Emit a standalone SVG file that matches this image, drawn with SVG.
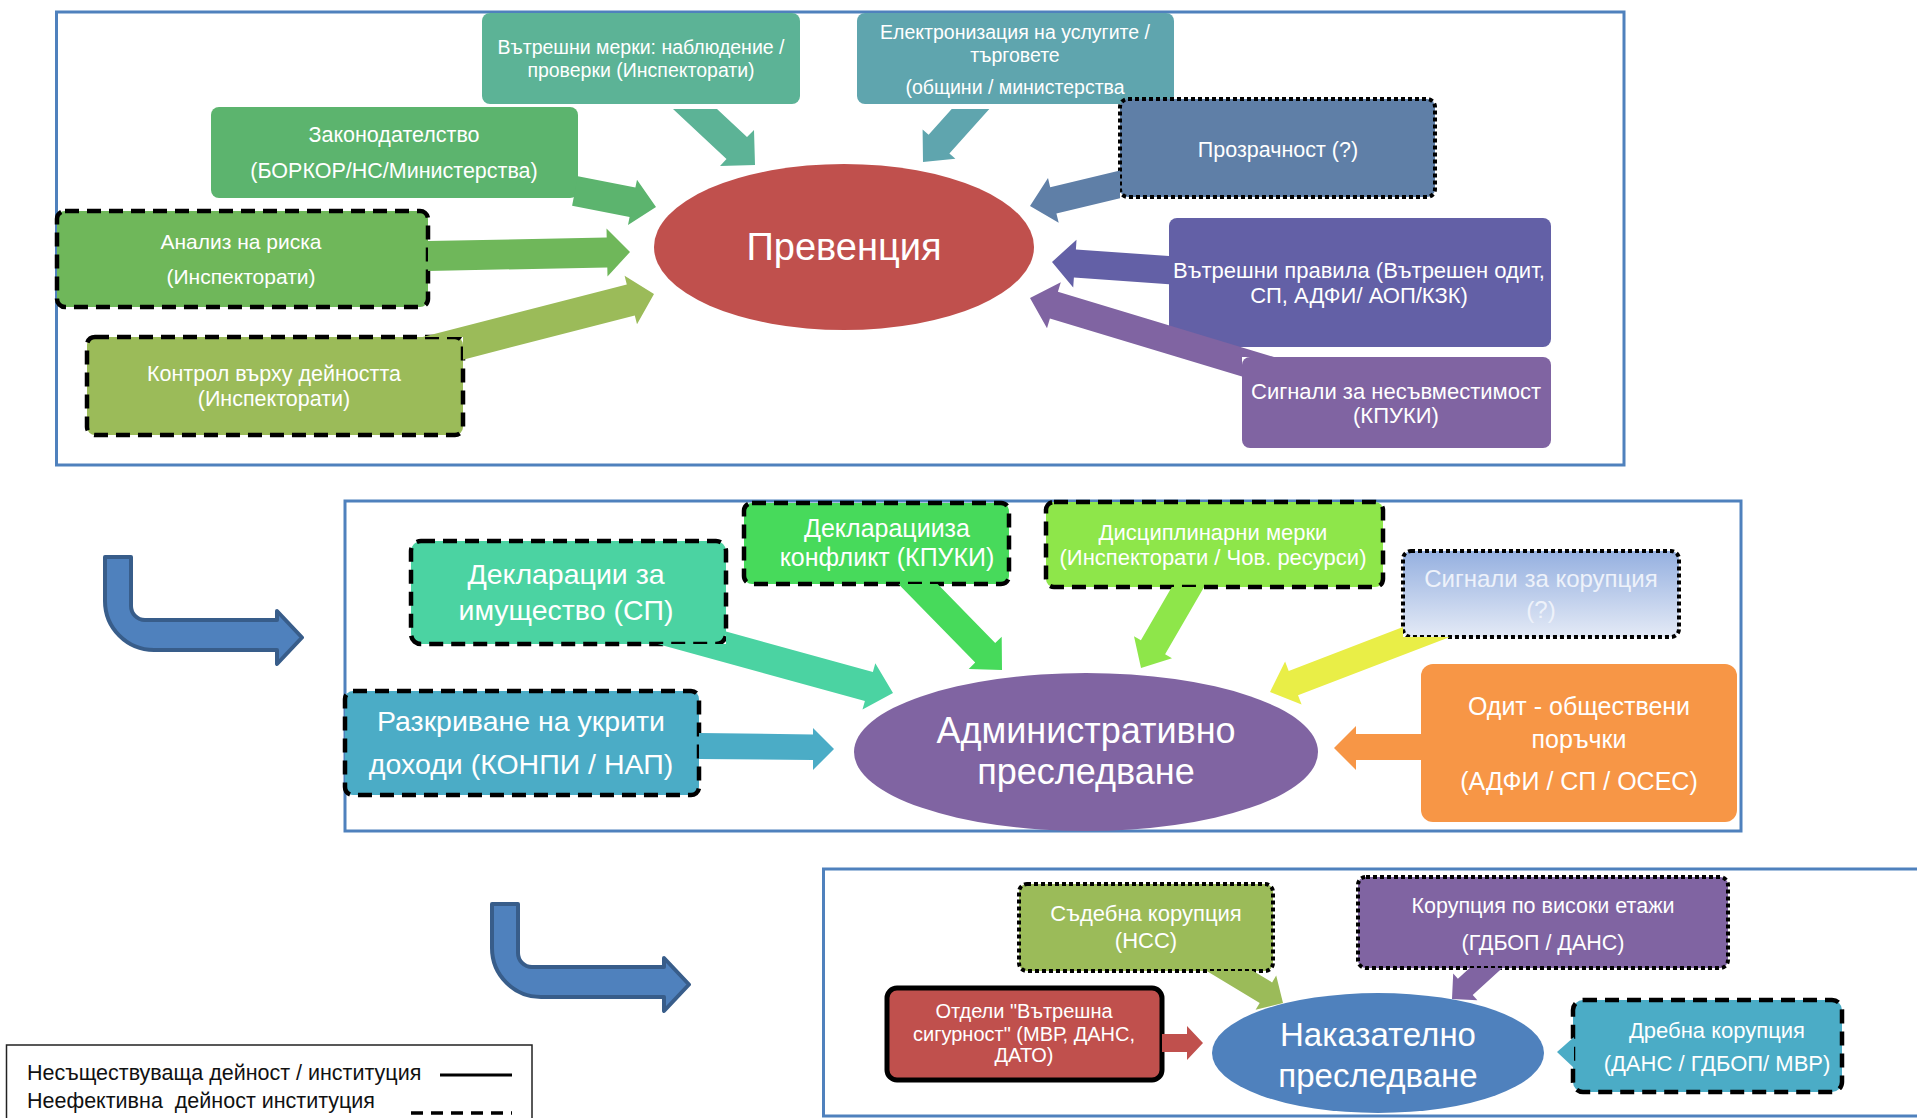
<svg xmlns="http://www.w3.org/2000/svg" width="1917" height="1118" viewBox="0 0 1917 1118">
<defs>
<linearGradient id="gSig" x1="0" y1="0" x2="0" y2="1"><stop offset="0" stop-color="#95B0E0"/><stop offset="1" stop-color="#E4EAF6"/></linearGradient>
<style>
.panel{fill:none;stroke:#4F81BD;stroke-width:3}
.t{font-family:"Liberation Sans","DejaVu Sans",sans-serif;fill:#fff;text-anchor:middle}
.lg{font-family:"Liberation Sans","DejaVu Sans",sans-serif;fill:#111;font-size:21.5px}
.dash{stroke:#000;stroke-width:4.5;stroke-dasharray:14 8}
.dot{stroke:#000;stroke-width:4;stroke-dasharray:4 3}
.solid{stroke:#000;stroke-width:5}
.bent{fill:#4F81BD;stroke:#385D8A;stroke-width:4;stroke-linejoin:round}
</style>
</defs>
<rect x="0" y="0" width="1917" height="1118" fill="#fff"/>
<g id="panels">
<rect class="panel" x="56.5" y="12" width="1567.5" height="453"/>
<rect class="panel" x="345" y="501" width="1396" height="330"/>
<rect class="panel" x="823.5" y="869" width="1110" height="247"/>
</g>
<g id="nodes">
<g id="n-vatreshni-merki"><rect x="482" y="13" width="318" height="91" rx="8" fill="#5CB396"/><text class="t" font-size="19.5"><tspan x="641" y="54">Вътрешни мерки: наблюдение /</tspan><tspan x="641" y="77">проверки (Инспекторати)</tspan></text></g>
<g id="n-elektronizacia"><rect x="857" y="13" width="317" height="91" rx="8" fill="#5FA5AE"/><text class="t" font-size="19.5"><tspan x="1015" y="39">Електронизация на услугите /</tspan><tspan x="1015" y="62">търговете</tspan><tspan x="1015" y="94">(общини / министерства</tspan></text></g>
<g id="n-zakonodatelstvo"><rect x="211" y="107" width="367" height="91" rx="8" fill="#5CB46E"/><text class="t" font-size="21.5"><tspan x="394" y="142">Законодателство</tspan><tspan x="394" y="178">(БОРКОР/НС/Министерства)</tspan></text></g>
<g id="n-analiz"><rect x="57" y="211" width="371" height="96" rx="8" fill="#6FB75A" class="dash"/><text class="t" font-size="21"><tspan x="241" y="249">Анализ на риска</tspan><tspan x="241" y="284">(Инспекторати)</tspan></text></g>
<g id="n-kontrol"><rect x="87" y="337" width="376" height="98" rx="8" fill="#9BBB59" class="dash"/><text class="t" font-size="21.5"><tspan x="274" y="381">Контрол върху дейността</tspan><tspan x="274" y="406">(Инспекторати)</tspan></text></g>
<g id="n-prevencia"><ellipse cx="844" cy="247" rx="190" ry="83" fill="#C0504D"/><text class="t" font-size="38" x="844" y="260">Превенция</text></g>
<g id="n-prozrachnost"><rect x="1120" y="99" width="315" height="98" rx="8" fill="#5F7FA7" class="dot"/><text class="t" font-size="21.5" x="1278" y="157">Прозрачност (?)</text></g>
<g id="n-vatreshni-pravila"><rect x="1169" y="218" width="382" height="129" rx="8" fill="#6360A6"/><text class="t" font-size="22"><tspan x="1359" y="277.5">Вътрешни правила (Вътрешен одит,</tspan><tspan x="1359" y="302.5">СП, АДФИ/ АОП/КЗК)</tspan></text></g>
<g id="n-signali-nesavmestimost"><rect x="1242" y="357" width="309" height="91" rx="8" fill="#8064A2"/><text class="t" font-size="22"><tspan x="1396" y="398.5">Сигнали за несъвместимост</tspan><tspan x="1396" y="422.5">(КПУКИ)</tspan></text></g>

<g id="n-deklaracii-imushtestvo"><rect x="411" y="541" width="315" height="103" rx="10" fill="#4BD3A2" class="dash"/><text class="t" font-size="28.5"><tspan x="566" y="584">Декларации за</tspan><tspan x="566" y="620">имущество (СП)</tspan></text></g>
<g id="n-deklaracii-konflikt"><rect x="744" y="503" width="265" height="81" rx="8" fill="#47DA5B" class="dash"/><text class="t" font-size="25"><tspan x="887" y="537">Декларацииза</tspan><tspan x="887" y="566">конфликт (КПУКИ)</tspan></text></g>
<g id="n-disciplinarni"><rect x="1046" y="502" width="337" height="85" rx="8" fill="#8EE64A" class="dash"/><text class="t" font-size="22"><tspan x="1213" y="539.5">Дисциплинарни мерки</tspan><tspan x="1213" y="564.5">(Инспекторати / Чов. ресурси)</tspan></text></g>
<g id="n-signali-korupcia"><rect x="1403" y="551" width="276" height="86" rx="8" fill="url(#gSig)" class="dot"/><text class="t" font-size="24" style="fill:#EEF2FA"><tspan x="1541" y="587">Сигнали за корупция</tspan><tspan x="1541" y="618">(?)</tspan></text></g>
<g id="n-razkrivane"><rect x="345" y="691" width="354" height="104" rx="8" fill="#4BACC6" class="dash"/><text class="t" font-size="28.5"><tspan x="521" y="731">Разкриване на укрити</tspan><tspan x="521" y="774">доходи (КОНПИ / НАП)</tspan></text></g>
<g id="n-odit"><rect x="1421" y="664" width="316" height="158" rx="12" fill="#F79646"/><text class="t" font-size="25"><tspan x="1579" y="714.5">Одит - обществени</tspan><tspan x="1579" y="747.5">поръчки</tspan><tspan x="1579" y="789.5">(АДФИ / СП / ОСЕС)</tspan></text></g>
<g id="n-administrativno"><ellipse cx="1086" cy="752" rx="232" ry="79" fill="#8064A2"/><text class="t" font-size="36"><tspan x="1086" y="743">Административно</tspan><tspan x="1086" y="784">преследване</tspan></text></g>

<g id="n-sadebna"><rect x="1019" y="884" width="254" height="87" rx="8" fill="#9BBB59" class="dot"/><text class="t" font-size="22"><tspan x="1146" y="920.5">Съдебна корупция</tspan><tspan x="1146" y="947.5">(НСС)</tspan></text></g>
<g id="n-visoki-etazhi"><rect x="1358" y="877" width="370" height="91" rx="8" fill="#8064A2" class="dot"/><text class="t" font-size="21.5"><tspan x="1543" y="912.5">Корупция по високи етажи</tspan><tspan x="1543" y="949.5">(ГДБОП / ДАНС)</tspan></text></g>
<g id="n-otdeli"><rect x="887" y="988" width="275" height="92" rx="10" fill="#C0504D" class="solid"/><text class="t" font-size="20"><tspan x="1024" y="1018">Отдели "Вътрешна</tspan><tspan x="1024" y="1041">сигурност" (МВР, ДАНС,</tspan><tspan x="1024" y="1062">ДАТО)</tspan></text></g>
<g id="n-nakazatelno"><ellipse cx="1378" cy="1053" rx="166" ry="60" fill="#4F81BD"/><text class="t" font-size="33"><tspan x="1378" y="1046">Наказателно</tspan><tspan x="1378" y="1087">преследване</tspan></text></g>
<g id="n-drebna"><rect x="1573" y="1000" width="269" height="92" rx="10" fill="#4BACC6" class="dash"/><text class="t" font-size="22"><tspan x="1717" y="1037.5">Дребна корупция</tspan><tspan x="1717" y="1070.5">(ДАНС / ГДБОП/ МВР)</tspan></text></g>
</g>
<g id="connectors">
<polygon fill="#5CB396" points="673,109 717,109 747,137 754,130 755,165 720,166 726.5,159"/>
<polygon fill="#5FA5AE" points="951.7,109 989.3,109 949.4,153.5 955.4,158.8 923,162 922.6,129.4 928.6,134.8"/>
<polygon fill="#5CB46E" points="577.9,176.3 635.4,187.6 637,179.7 656,207 628,224.9 629.6,217 572.1,205.7"/>
<polygon fill="#6FB75A" points="428,241 606.7,237.5 606.5,228.5 630,252 607.5,276.4 607.3,267.4 428,271"/>
<polygon fill="#9BBB59" points="422.6,337 626.8,284.5 624.6,275.8 654,294 637,324.2 634.8,315.5 463,359.7 463,337"/>
<polygon fill="#5F7FA7" points="1120,170.6 1050.2,187.3 1048,178 1030,206 1058.7,222.8 1056.4,213.5 1120,198.3"/>
<polygon fill="#6360A6" points="1169,256 1075.9,249.6 1076.5,239.7 1052,262 1073.2,287.5 1073.9,277.6 1169,284.2"/>
<polygon fill="#8064A2" points="1274,357 1057.9,291.8 1060.8,282.2 1030,298 1047,328.2 1049.9,318.6 1242,376.6 1242,357"/>

<polygon fill="#4BD3A2" points="726,631.6 872.9,671.9 875.3,663.3 893,693 862.5,709.5 864.9,700.9 657.7,644 726,644"/>
<polygon fill="#47DA5B" points="898.4,584 937.6,584 995.2,643 1001.7,636.7 1002,670 968.7,668.9 975.2,662.6"/>
<polygon fill="#8EE64A" points="1171.8,587 1204.1,587 1165.1,654.2 1172,658.2 1141,668 1134,636.2 1140.9,640.2"/>
<polygon fill="#E9EE47" points="1403,627.1 1288.7,670.9 1285.1,661.6 1270,692 1301.6,704.5 1298,695.2 1449.9,637 1403,637"/>
<polygon fill="#4BACC6" points="699,733 813,734.5 813,728 834,749 813,770 813,760 699,759"/>
<polygon fill="#F79646" points="1421,734 1356,734 1356,726 1334,748 1356,770 1356,760 1421,760"/>

<polygon fill="#9BBB59" points="1206.7,971 1253.2,971 1272.1,982.4 1276.2,975.6 1283,1003 1255.6,1009.8 1259.7,1003"/>
<polygon fill="#8064A2" points="1469.7,968 1502.3,968 1472.7,995 1477.4,1000.2 1452,999 1453.2,973.6 1457.9,978.8"/>
<polygon fill="#C0504D" points="1162,1034 1187,1034 1187,1026 1203,1043 1187,1060 1187,1052 1162,1052"/>
<polygon fill="#4BACC6" points="1574,1037 1557,1052 1574,1068"/>

<path id="bent-1" class="bent" d="M105 557 L131 557 L131 606 A14 14 0 0 0 145 620 L277 620 L277 611 L302 637.5 L277 664 L277 650 L154 650 A49 49 0 0 1 105 601 Z"/>
<path id="bent-2" class="bent" transform="translate(387 347)" d="M105 557 L131 557 L131 606 A14 14 0 0 0 145 620 L277 620 L277 611 L302 637.5 L277 664 L277 650 L154 650 A49 49 0 0 1 105 601 Z"/>
</g>
<g id="legend">
<rect x="6.5" y="1045" width="525.5" height="100" fill="#fff" stroke="#222" stroke-width="1.5"/>
<text class="lg" x="27" y="1080">Несъществуваща дейност / институция</text>
<text class="lg" x="27" y="1108" xml:space="preserve">Неефективна  дейност институция</text>
<line x1="440" y1="1075" x2="512" y2="1075" stroke="#000" stroke-width="3"/>
<line x1="411" y1="1113" x2="512" y2="1113" stroke="#000" stroke-width="3.5" stroke-dasharray="12 8"/>
</g>
</svg>
